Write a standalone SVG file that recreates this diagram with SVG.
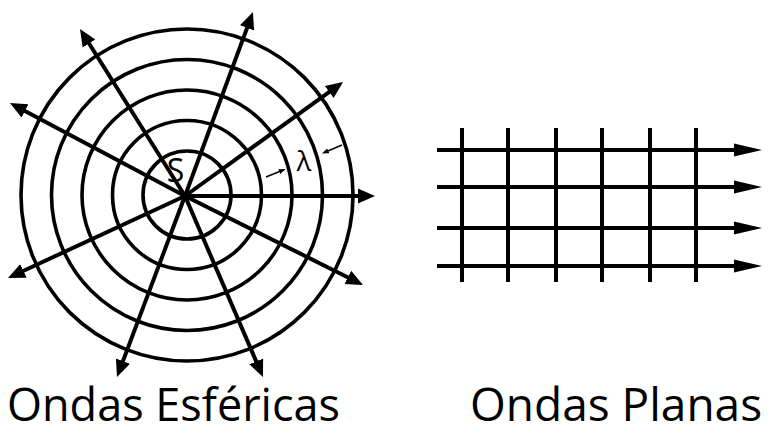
<svg xmlns="http://www.w3.org/2000/svg" width="769" height="433" viewBox="0 0 769 433">
<style>
.ln{stroke:#000;stroke-width:4;fill:none}
.ring{stroke:#000;stroke-width:3.6;fill:none}
.thin{stroke:#000;stroke-width:1.4;fill:none}
.lbl{font-family:"Open Sans","Noto Sans",sans-serif;fill:#000}
.title{font-size:46px}
</style>
<defs>
<marker id="ah" markerUnits="userSpaceOnUse" markerWidth="20" markerHeight="18" viewBox="0 -9 20 18" refX="7" refY="0" orient="auto">
<path d="M0,-7.5 L17,0 L0,7.5 Z" fill="#000"/>
</marker>
<marker id="ahp" markerUnits="userSpaceOnUse" markerWidth="30" markerHeight="16" viewBox="0 -8 30 16" refX="18" refY="0" orient="auto">
<path d="M0,-6.5 L28,0 L0,6.5 Z" fill="#000"/>
</marker>
<marker id="ahs" markerUnits="userSpaceOnUse" markerWidth="8" markerHeight="6" viewBox="0 -3 8 6" refX="3" refY="0" orient="auto">
<path d="M0,-2.5 L7,0 L0,2.5 Z" fill="#000"/>
</marker>
</defs>

<g id="spherical-waves">
<g id="wavefronts">
<circle class="ring" cx="187" cy="195" r="44"/>
<circle class="ring" cx="187" cy="195" r="74.5"/>
<circle class="ring" cx="187" cy="195" r="105"/>
<circle class="ring" cx="187" cy="195" r="135.5"/>
<circle class="ring" cx="187" cy="195" r="166"/>
</g>
<g id="rays">
<line class="ln" x1="185" y1="196" x2="365" y2="196" marker-end="url(#ah)"/>
<line class="ln" x1="185" y1="196" x2="334.9" y2="87.9" marker-end="url(#ah)"/>
<line class="ln" x1="185" y1="196" x2="249.5" y2="21.4" marker-end="url(#ah)"/>
<line class="ln" x1="185" y1="196" x2="85.3" y2="37.5" marker-end="url(#ah)"/>
<line class="ln" x1="185" y1="196" x2="18.8" y2="107.7" marker-end="url(#ah)"/>
<line class="ln" x1="185" y1="196" x2="17.1" y2="273.8" marker-end="url(#ah)"/>
<line class="ln" x1="185" y1="196" x2="120.5" y2="367.6" marker-end="url(#ah)"/>
<line class="ln" x1="185" y1="196" x2="259" y2="367.8" marker-end="url(#ah)"/>
<line class="ln" x1="185" y1="196" x2="354.1" y2="280.5" marker-end="url(#ah)"/>
</g>
<g id="source">
<text class="lbl" x="175.5" y="182" font-size="32" text-anchor="middle">S</text>
</g>
<g id="wavelength">
<line class="thin" x1="266" y1="177" x2="282" y2="170.5" marker-end="url(#ahs)"/>
<line class="thin" x1="342" y1="145" x2="325.5" y2="152" marker-end="url(#ahs)"/>
<text class="lbl" x="304" y="171" font-size="27" text-anchor="middle">λ</text>
</g>
<g id="label-spherical">
<text class="lbl title" x="7" y="421" textLength="333" lengthAdjust="spacingAndGlyphs">Ondas Esféricas</text>
</g>
</g>

<g id="plane-waves">
<g id="plane-fronts">
<line class="ln" x1="462" y1="128" x2="462" y2="282"/>
<line class="ln" x1="508" y1="128" x2="508" y2="282"/>
<line class="ln" x1="556" y1="128" x2="556" y2="282"/>
<line class="ln" x1="602" y1="128" x2="602" y2="282"/>
<line class="ln" x1="650" y1="128" x2="650" y2="282"/>
<line class="ln" x1="696" y1="128" x2="696" y2="282"/>
</g>
<g id="plane-rays">
<line class="ln" x1="437" y1="150" x2="752" y2="150" marker-end="url(#ahp)"/>
<line class="ln" x1="437" y1="187" x2="752" y2="187" marker-end="url(#ahp)"/>
<line class="ln" x1="437" y1="228" x2="752" y2="228" marker-end="url(#ahp)"/>
<line class="ln" x1="437" y1="266" x2="752" y2="266" marker-end="url(#ahp)"/>
</g>
<g id="label-plane">
<text class="lbl title" x="470" y="421">Ondas Planas</text>
</g>
</g>
</svg>
